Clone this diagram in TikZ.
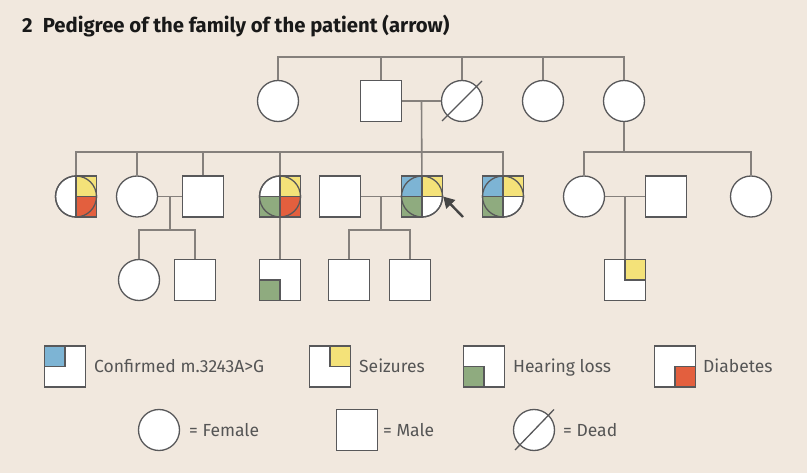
\documentclass[tikz,border=0pt]{standalone}
\usepackage{fontspec}
\setmainfont{Fira Sans}
\usepackage{tikz}
\usetikzlibrary{calc,arrows.meta}
\usepackage{xcolor}
\definecolor{bg}{HTML}{F1E8DE}
\definecolor{symgray}{HTML}{58585A}
\definecolor{linkgray}{HTML}{85807C}
\definecolor{txtgray}{HTML}{555555}
\definecolor{mblue}{HTML}{7DB4D4}
\definecolor{myel}{HTML}{F4E279}
\definecolor{mgreen}{HTML}{8FAB7F}
\definecolor{mred}{HTML}{E35F3E}
\newcommand{\quadbox}[4]{\filldraw[symline,fill=#2] (#1.center) rectangle ++(#3,#4);}

\begin{document}
\begin{tikzpicture}[x=1pt,y=-1pt,
  symline/.style={draw=symgray,line width=1.3pt},
  fem/.style={circle,symline,fill=white,minimum size=41pt,inner sep=0pt},
  mal/.style={rectangle,symline,fill=white,minimum size=41pt,inner sep=0pt},
  link/.style={draw=linkgray,line width=1.6pt},
  legtext/.style={anchor=base west,inner sep=0pt,text=txtgray,font=\fontsize{17.5}{20}\selectfont},
  pointer/.style={draw=black!73,line width=2.4pt,-{Triangle[length=11pt,width=12pt]}}]
  \fill[bg] (0,0) rectangle (807,473);
  \node[anchor=base west,inner sep=0pt,text=black!90,font=\fontsize{20.3}{24}\selectfont\bfseries] (title) at (22,33)
    {2\hspace{0.5em}Pedigree of the family of the patient (arrow)};

  \node[fem] (pA) at (278,101) {};
  \node[mal] (pB) at (381,101) {};
  \node[fem] (pC) at (462,101) {};
  \node[fem] (pD) at (543,101) {};
  \node[fem] (pE) at (624,101) {};
  \draw[symline] (pC.center) +(-20,20) -- +(20,-20);

  \node[fem] (qA) at (76,196.5) {};
  \node[fem] (qB) at (137,196.5) {};
  \node[mal] (qC) at (203,196.5) {};
  \node[fem] (qD) at (280,196.5) {};
  \node[mal] (qE) at (340,196.5) {};
  \node[fem] (qF) at (422,196.5) {};
  \node[fem] (qG) at (503,196.5) {};
  \node[fem] (qH) at (584,196.5) {};
  \node[mal] (qI) at (666,196.5) {};
  \node[fem] (qJ) at (751,196.5) {};

  \node[fem] (rA) at (139,280) {};
  \node[mal] (rB) at (195,280) {};
  \node[mal] (rC) at (280,280) {};
  \node[mal] (rD) at (349,280) {};
  \node[mal] (rE) at (410,280) {};
  \node[mal] (rF) at (625,280) {};

  \coordinate (tA) at (278,57);
  \draw[link] (pA) -- (tA) -| (pE);
  \draw[link] (pB) -- (pB |- tA);
  \draw[link] (pC) -- (pC |- tA);
  \draw[link] (pD) -- (pD |- tA);
  \draw[link] (pB) -- (pC);
  \coordinate (mI) at ($(pB.east)!0.5!(pC.west)$);
  \draw[link] (mI) -- (qF);
  \coordinate (sA) at (76,152);
  \draw[link] (qA) -- (qA |- sA) -| (qG);
  \draw[link] (qB) -- (qB |- sA);
  \draw[link] (qC) -- (qC |- sA);
  \draw[link] (qD) -- (qD |- sA);
  \coordinate (sB) at (624,152);
  \draw[link] (pE) -- (sB);
  \draw[link] (qH) -- (qH |- sB) -| (qJ);

  \draw[link] (qB) -- (qC);
  \coordinate (mA) at ($(qB.east)!0.5!(qC.west)$);
  \coordinate (sC) at ($(mA)+(0,33.5)$);
  \draw[link] (mA) -- (sC);
  \draw[link] (rA) -- (rA |- sC) -| (rB);
  \draw[link] (qE) -- (qF);
  \coordinate (mB) at ($(qE.east)!0.5!(qF.west)$);
  \coordinate (sD) at ($(mB)+(0,33.5)$);
  \draw[link] (mB) -- (sD);
  \draw[link] (rD) -- (rD |- sD) -| (rE);
  \draw[link] (qH) -- (qI);
  \coordinate (mC) at ($(qH.east)!0.5!(qI.west)$);
  \draw[link] (mC) -- (rF);
  \draw[link] (qD) -- (rC);

  \quadbox{qA}{myel}{20.5}{-20.5}
  \quadbox{qA}{mred}{20.5}{20.5}
  \draw[symline] (qA) circle (20.5);
  \quadbox{qD}{myel}{20.5}{-20.5}
  \quadbox{qD}{mgreen}{-20.5}{20.5}
  \quadbox{qD}{mred}{20.5}{20.5}
  \draw[symline] (qD) circle (20.5);
  \quadbox{qF}{mblue}{-20.5}{-20.5}
  \quadbox{qF}{myel}{20.5}{-20.5}
  \quadbox{qF}{mgreen}{-20.5}{20.5}
  \draw[symline] (qF) circle (20.5);
  \quadbox{qG}{mblue}{-20.5}{-20.5}
  \quadbox{qG}{myel}{20.5}{-20.5}
  \quadbox{qG}{mgreen}{-20.5}{20.5}
  \draw[symline] (qG) circle (20.5);
  \quadbox{rC}{mgreen}{-20.5}{20.5}
  \quadbox{rF}{myel}{20.5}{-20.5}

  \coordinate (arr) at (463,217);
  \draw[pointer] (arr) -- (qF.east);

  \node[mal] (lA) at (65,366.5) {};
  \quadbox{lA}{mblue}{-20.5}{-20.5}
  \node[legtext] (lAt) at (94,373) {Confirmed m.3243A>G};
  \node[mal] (lB) at (330,366.5) {};
  \quadbox{lB}{myel}{20.5}{-20.5}
  \node[legtext] (lBt) at (359,373) {Seizures};
  \node[mal] (lC) at (484,366.5) {};
  \quadbox{lC}{mgreen}{-20.5}{20.5}
  \node[legtext] (lCt) at (513,373) {Hearing loss};
  \node[mal] (lD) at (675,366.5) {};
  \quadbox{lD}{mred}{20.5}{20.5}
  \node[legtext] (lDt) at (703,373) {Diabetes};

  \node[fem] (lE) at (159,430) {};
  \node[legtext] (lEt) at (189,436) {= Female};
  \node[mal] (lF) at (357,430) {};
  \node[legtext] (lFt) at (383,436) {= Male};
  \node[fem] (lG) at (534,430) {};
  \draw[symline] (lG.center) +(-19,20) -- +(20,-20.5);
  \node[legtext] (lGt) at (563,436) {= Dead};
\end{tikzpicture}
\end{document}
